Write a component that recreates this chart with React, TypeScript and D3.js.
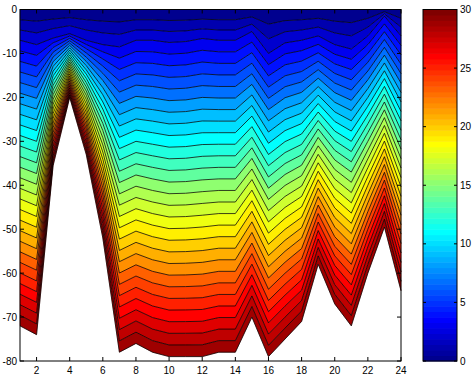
import React from "react";
import * as d3 from "d3";

// Stations along the section (x axis)
const stations = [1, 2, 3, 4, 5, 6, 7, 8, 9, 10, 11, 12, 13, 14, 15, 16, 17, 18, 19, 20, 21, 22, 23, 24];
// Bottom of the filled field at each station
const bottomDepth = [-72, -74, -35.5, -20, -33, -52, -78, -76, -78, -79, -79, -79, -78, -78, -70, -79, -75, -71, -58, -67, -72, -60, -49.5, -64];
// Depth of the "knee" contour (level 3) at each station
const kneeDepth = [-7, -8, -6.5, -5.5, -7, -8, -8.5, -7, -7, -7.5, -7.3, -6.6, -7, -7, -5, -10, -7.6, -7, -6, -8, -9, -6, -1.5, -6];
const kneeLevel = 3;
const levels = [0, 1, 2, 3, 4, 5, 6, 7, 8, 9, 10, 11, 12, 13, 14, 15, 16, 17, 18, 19, 20, 21, 22, 23, 24, 25, 26, 27, 28, 29, 30];
const xTicks = [2, 4, 6, 8, 10, 12, 14, 16, 18, 20, 22, 24];
const yTicks = [0, -10, -20, -30, -40, -50, -60, -70, -80];
const cbTicks = [0, 5, 10, 15, 20, 25, 30];

const W = 475, H = 376;
const plot = { left: 20, right: 401, top: 9.5, bottom: 361 };
const cb = { left: 423, right: 457 };
const font = "'Liberation Sans', Arial, Helvetica, sans-serif";

// MATLAB jet(64)
function jet(n: number): string[] {
  const m = Math.ceil(n / 4);
  const u: number[] = [];
  for (let i = 1; i <= m; i++) u.push(i / m);
  for (let i = 0; i < m - 1; i++) u.push(1);
  for (let i = m; i >= 1; i--) u.push(i / m);
  const base = Math.ceil(n / 8) - (n % 4 === 1 ? 1 : 0);
  const J = Array.from({ length: n }, () => [0, 0, 0]);
  for (let j = 1; j <= u.length; j++) {
    const g = base + j, r = g + m;
    if (g >= 1 && g <= n) J[g - 1][1] = u[j - 1];
    if (r >= 1 && r <= n) J[r - 1][0] = u[j - 1];
  }
  const bIdx: number[] = [];
  for (let j = 1; j <= u.length; j++) { const b = base + j - m; if (b >= 1 && b <= n) bIdx.push(b); }
  bIdx.forEach((b, i) => { J[b - 1][2] = u[u.length - bIdx.length + i]; });
  return J.map(([r, g, b]) => d3.rgb(r * 255, g * 255, b * 255).formatHex());
}
const cmap = jet(64);
const colorOf = (v: number) => cmap[Math.max(0, Math.min(63, Math.floor((v / 30) * 64)))];

function depthAt(level: number, i: number): number {
  const knee = kneeDepth[i];
  if (level <= kneeLevel) return (knee * level) / kneeLevel;
  const bot = bottomDepth[i];
  return knee + ((bot - knee) * (level - kneeLevel)) / (30 - kneeLevel);
}

export default function App() {
  const x = d3.scaleLinear().domain([1, 24]).range([plot.left, plot.right]);
  const y = d3.scaleLinear().domain([-80, 0]).range([plot.bottom, plot.top]);
  const cy = d3.scaleLinear().domain([0, 30]).range([plot.bottom, plot.top]);
  const idx = stations.map((_, i) => i);

  const bands = levels.slice(0, -1).map((lv) => {
    const area = d3.area<number>()
      .x((i) => x(stations[i]))
      .y0((i) => y(depthAt(lv, i)))
      .y1((i) => y(depthAt(lv + 1, i)));
    return { lv, d: area(idx) || "" };
  });
  const lines = levels.slice(1).map((lv) => {
    const line = d3.line<number>().x((i) => x(stations[i])).y((i) => y(depthAt(lv, i)));
    return { lv, d: line(idx) || "" };
  });

  const cbStep = (plot.bottom - plot.top) / 64;
  const tl = 4;

  return (
    <svg width={W} height={H} style={{ position: "absolute", left: 0, top: 0, background: "#fff" }}>
      <rect x={0} y={0} width={W} height={H} fill="#fff" />
      {bands.map((b) => (
        <path key={"b" + b.lv} d={b.d} fill={colorOf(b.lv)} stroke={colorOf(b.lv)} strokeWidth={0.3} />
      ))}
      {lines.map((l) => (
        <path key={"l" + l.lv} d={l.d} fill="none" stroke="#000" strokeWidth={0.75} />
      ))}
      <rect x={plot.left} y={plot.top} width={plot.right - plot.left} height={plot.bottom - plot.top} fill="none" stroke="#000" strokeWidth={1} />
      {xTicks.map((t) => (
        <g key={"xt" + t}>
          <line x1={x(t)} x2={x(t)} y1={plot.bottom} y2={plot.bottom - tl} stroke="#000" />
          <line x1={x(t)} x2={x(t)} y1={plot.top} y2={plot.top + tl} stroke="#000" />
          <text x={x(t)} y={373.5} textAnchor="middle" fontFamily={font} fontSize={10}>{t}</text>
        </g>
      ))}
      {yTicks.map((t) => (
        <g key={"yt" + t}>
          <line x1={plot.left} x2={plot.left + tl} y1={y(t)} y2={y(t)} stroke="#000" />
          <line x1={plot.right} x2={plot.right - tl} y1={y(t)} y2={y(t)} stroke="#000" />
          <text x={17} y={y(t) + 3.5} textAnchor="end" fontFamily={font} fontSize={10}>{t}</text>
        </g>
      ))}
      {cmap.map((c, i) => (
        <rect key={"c" + i} x={cb.left} y={plot.bottom - (i + 1) * cbStep} width={cb.right - cb.left} height={cbStep + 0.5} fill={c} />
      ))}
      <rect x={cb.left} y={plot.top} width={cb.right - cb.left} height={plot.bottom - plot.top} fill="none" stroke="#000" strokeWidth={1} />
      {cbTicks.map((t) => (
        <g key={"ct" + t}>
          <line x1={cb.left} x2={cb.left + 3} y1={cy(t)} y2={cy(t)} stroke="#000" />
          <line x1={cb.right} x2={cb.right - 3} y1={cy(t)} y2={cy(t)} stroke="#000" />
          <text x={460} y={cy(t) + 3.5} textAnchor="start" fontFamily={font} fontSize={10}>{t}</text>
        </g>
      ))}
    </svg>
  );
}
